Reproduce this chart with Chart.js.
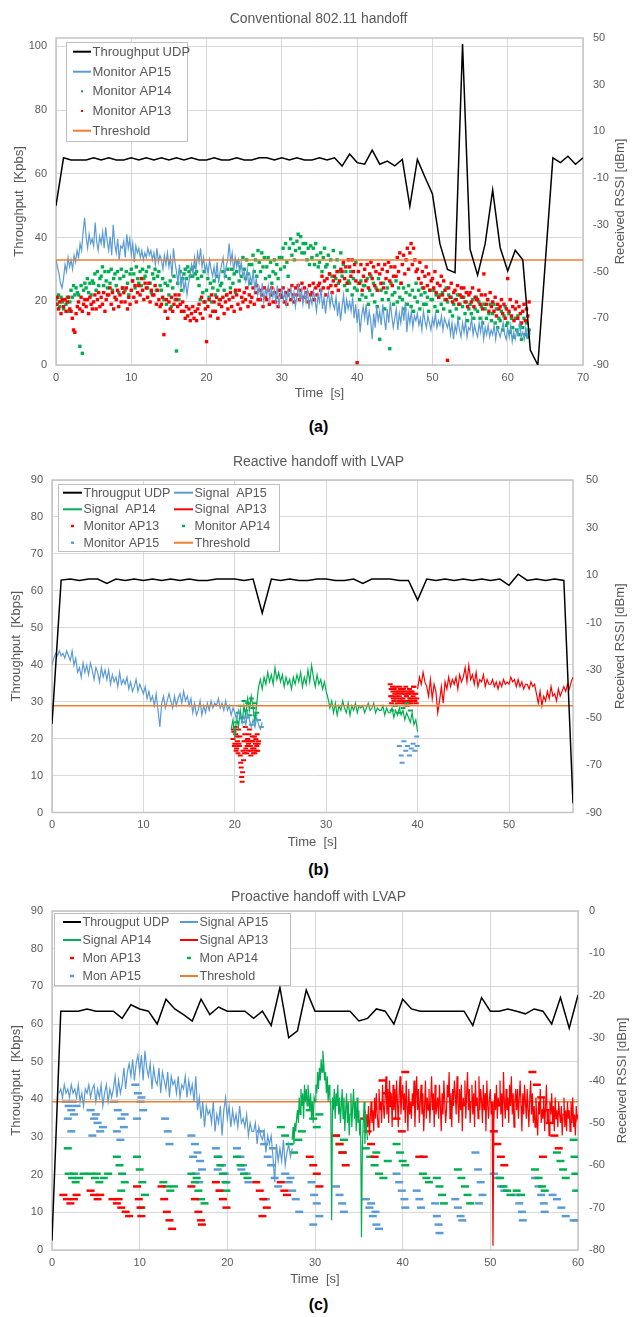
<!DOCTYPE html>
<html>
<head>
<meta charset="utf-8">
<script src="https://cdn.jsdelivr.net/npm/chart.js@4.4.1/dist/chart.umd.min.js"></script>
<style>
  body { margin:0; background:#fff; width:637px; height:1317px; position:relative; overflow:hidden; font-family:"Liberation Sans", Arial, sans-serif; }
  canvas { position:absolute; left:0; }
  .ttl { position:absolute; left:0; width:637px; text-align:center; font-size:14px; color:#595959; line-height:16px; }
  .lbl { position:absolute; left:0; width:637px; text-align:center; font-size:16px; font-weight:bold; color:#000; line-height:18px; }
</style>
</head>
<body>
<canvas id="chartA" width="637" height="405" style="top:0px"></canvas>
<canvas id="chartB" width="637" height="414" style="top:440px"></canvas>
<canvas id="chartC" width="637" height="406" style="top:885px"></canvas>
<div class="ttl" style="top:10px">Conventional 802.11 handoff</div>
<div class="lbl" style="top:418px">(a)</div>
<div class="ttl" style="top:453px">Reactive handoff with LVAP</div>
<div class="lbl" style="top:861px">(b)</div>
<div class="ttl" style="top:888px">Proactive handoff with LVAP</div>
<div class="lbl" style="top:1296px">(c)</div>
<script>
// ---------- (a) Conventional 802.11 handoff ----------
// throughput, one value per second (Kbps)
const tputA = [50,65,64.3,64.3,64.3,65,64.3,65,64.3,64.3,65,64.3,65,64.3,65,64.3,65,64.3,65,64.3,
  64.3,65,64.3,64.3,65,64.3,64.3,65,65,64.3,65,64.3,65,64.3,64.3,65,64.3,65,62.4,66.2,
  63.5,63,67.4,63,64,62.5,64.5,49.8,64.5,59,53.7,38,30,29,100.7,36.3,28.2,38,54.9,36.8,
  29.5,36,33,4.7,0,null,65,63.5,65.5,63,65];
// RSSI (dBm), monitor AP15 every 0.2 s
const monA15 = [
  -45,-48,-51,-55,-57,-53,-47,-50,-44,-48,-45,-49,-43,-46,-41,-44,-38,-41,-33,-27,
  -35,-40,-34,-38,-36,-39,-29,-37,-41,-35,-38,-33,-40,-31,-37,-41,-35,-43,-30,-38,
  -42,-36,-45,-39,-40,-37,-44,-34,-40,-36,-43,-38,-46,-39,-42,-40,-44,-41,-45,-42,
  -44,-40,-43,-41,-45,-42,-47,-40,-46,-43,-45,-49,-43,-47,-42,-48,-44,-52,-40,-46,
  -50,-55,-47,-57,-52,-58,-54,-60,-55,-52,-47,-51,-44,-49,-42,-46,-40,-48,-44,-50,
  -47,-51,-45,-49,-52,-48,-53,-46,-55,-50,-47,-44,-52,-48,-45,-38,-46,-42,-50,-44,
  -48,-45,-51,-46,-52,-50,-54,-49,-56,-52,-55,-50,-58,-53,-60,-57,-61,-55,-63,-58,
  -60,-56,-62,-57,-61,-58,-63,-56,-65,-60,-57,-62,-59,-64,-58,-61,-57,-63,-59,-65,
  -60,-56,-62,-58,-64,-59,-63,-57,-66,-61,-64,-58,-62,-67,-60,-63,-57,-66,-61,-68,
  -62,-59,-65,-60,-64,-66,-61,-69,-63,-71,-65,-60,-68,-62,-66,-63,-67,-61,-70,-64,
  -72,-66,-76,-69,-65,-70,-64,-73,-67,-71,-79,-68,-74,-65,-71,-67,-73,-64,-70,-75,
  -66,-72,-63,-69,-74,-70,-66,-75,-68,-72,-65,-71,-63,-76,-68,-72,-67,-74,-69,-71,
  -68,-73,-70,-75,-67,-71,-74,-69,-72,-75,-70,-73,-68,-74,-71,-73,-69,-75,-70,-72,
  -74,-71,-77,-72,-79,-73,-76,-70,-75,-78,-72,-76,-71,-78,-74,-75,-70,-77,-73,-76,
  -78,-72,-76,-71,-79,-74,-77,-73,-78,-75,-77,-73,-79,-74,-76,-78,-75,-72,-77,-79,
  -74,-78,-73,-80,-76,-79,-75,-77,-72,-78,-76,-79,-74,-78,-75,-77];
// RSSI (dBm), monitor AP14 six samples per second
const monA14 = [
  -62,-64,-60,-65,-61,-63, -66,-62,-64,-61,-67,-63, -58,-61,-56,-60,-57,-59, -60,-82,-56,-85,-58,-55,
  -57,-53,-59,-55,-60,-54, -55,-51,-58,-50,-56,-53, -52,-48,-56,-50,-54,-57, -50,-55,-49,-58,-53,-51,
  -56,-50,-59,-53,-49,-57, -52,-58,-50,-55,-60,-51, -49,-54,-51,-57,-48,-53, -55,-50,-56,-49,-53,-52,
  -50,-57,-48,-55,-59,-51, -53,-49,-58,-52,-50,-56, -58,-53,-62,-55,-64,-56, -60,-54,-65,-57,-52,-62,
  -84,-55,-62,-50,-58,-53, -51,-49,-53,-48,-50,-52, -49,-52,-48,-51,-50,-53, -56,-62,-52,-59,-50,-63,
  -58,-53,-61,-55,-63,-57, -54,-60,-52,-58,-62,-56, -55,-50,-58,-52,-60,-49, -53,-57,-49,-55,-51,-59,
  -50,-46,-54,-48,-52,-44, -49,-53,-45,-51,-47,-55, -47,-43,-50,-45,-52,-41, -46,-50,-42,-48,-44,-53,
  -48,-44,-52,-46,-55,-50, -45,-51,-47,-53,-44,-49, -44,-40,-48,-38,-46,-52, -40,-36,-43,-38,-45,-41,
  -37,-34,-40,-35,-42,-38, -42,-38,-45,-40,-47,-39, -44,-40,-47,-38,-43,-48, -46,-42,-50,-44,-40,-48,
  -47,-43,-51,-45,-52,-41, -48,-53,-45,-55,-50,-42, -52,-47,-56,-50,-58,-54, -55,-50,-60,-53,-57,-46,
  -58,-55,-62,-54,-60,-56, -56,-61,-53,-64,-58,-52, -60,-55,-63,-57,-65,-53, -79,-58,-62,-55,-66,-59,
  -57,-62,-83,-55,-60,-64, -59,-54,-63,-57,-61,-55, -62,-57,-66,-59,-64,-56, -60,-65,-58,-67,-61,-55,
  -63,-58,-66,-60,-57,-64, -59,-64,-61,-67,-58,-62, -62,-58,-65,-60,-67,-61, -60,-64,-59,-66,-62,-57,
  -63,-60,-67,-61,-69,-64, -62,-66,-60,-70,-64,-61, -65,-61,-68,-63,-71,-66, -64,-68,-62,-70,-66,-61,
  -67,-63,-70,-65,-72,-64, -66,-70,-62,-68,-64,-71, -68,-64,-72,-66,-74,-70, -71,-67,-75,-69,-65,-73,
  -72,-68,-76,-70,-74,-78, -70,-75,-69,-77,-73,-79, -74,-70,-77,-72,-78,-75];
// RSSI (dBm), monitor AP13 six samples per second
const monA13 = [
  -64,-61,-66,-63,-68,-62, -65,-62,-67,-63,-61,-66, -67,-70,-75,-76,-68,-65, -63,-66,-61,-67,-64,-62,
  -65,-62,-68,-61,-64,-66, -63,-60,-66,-62,-59,-65, -61,-64,-59,-67,-62,-60, -60,-57,-64,-59,-66,-61,
  -62,-58,-65,-60,-63,-57, -59,-63,-57,-66,-61,-64, -58,-54,-61,-56,-63,-59, -56,-60,-53,-58,-62,-55,
  -57,-61,-55,-63,-58,-60, -60,-56,-64,-58,-62,-65, -64,-61,-77,-67,-62,-70, -63,-66,-61,-67,-64,-60,
  -62,-65,-60,-64,-67,-63, -67,-70,-65,-69,-66,-71, -68,-65,-70,-67,-71,-66, -64,-68,-61,-70,-63,-66,
  -80,-65,-62,-69,-60,-67, -63,-67,-61,-70,-64,-62, -65,-61,-68,-63,-60,-66, -62,-59,-65,-61,-67,-58,
  -60,-64,-58,-66,-61,-63, -59,-62,-57,-65,-60,-63, -61,-57,-64,-59,-56,-62, -58,-62,-60,-65,-57,-61,
  -62,-58,-64,-60,-57,-63, -59,-63,-61,-65,-58,-60, -61,-57,-63,-59,-64,-60, -58,-62,-56,-60,-63,-57,
  -60,-56,-62,-58,-55,-61, -57,-61,-59,-63,-56,-60, -59,-55,-62,-57,-60,-56, -55,-58,-52,-57,-54,-60,
  -53,-57,-51,-56,-59,-54, -52,-56,-50,-58,-54,-49, -50,-46,-53,-48,-55,-45, -48,-52,-45,-50,-47,-54,
  -89,-50,-55,-47,-58,-52, -49,-54,-47,-57,-51,-46, -53,-48,-56,-50,-58,-47, -51,-55,-49,-57,-47,-53,
  -50,-46,-54,-48,-56,-52, -48,-52,-44,-50,-42,-55, -47,-43,-51,-45,-40,-49, -42,-38,-47,-40,-45,-50,
  -49,-53,-46,-55,-50,-57, -52,-48,-56,-51,-58,-54, -53,-57,-50,-59,-55,-61, -56,-52,-60,-54,-58,-62,
  -88,-57,-61,-55,-63,-59, -58,-62,-56,-64,-60,-57, -61,-57,-63,-59,-65,-60, -59,-63,-57,-65,-61,-62,
  -62,-58,-64,-60,-66,-51, -60,-64,-62,-67,-59,-65, -63,-67,-61,-69,-64,-66, -65,-62,-68,-64,-70,-66,
  -53,-67,-62,-69,-65,-71, -66,-63,-70,-65,-68,-72, -67,-64,-71,-66,-69,-63];
const thrA = -45;

// ---------- (b) Reactive handoff with LVAP ----------
const tputB = [24,62.9,63.2,62.8,63.2,63.2,62,63.2,62.8,63.2,62.8,63.2,62.8,63.2,62.8,63.2,62.8,62.8,63.2,63.2,
  63.2,62.8,63.2,54,63.2,62.8,63.2,62.8,62.8,63.2,63.2,62.8,62.8,63.2,62,63.2,63.2,63.2,62.8,62.8,
  57.5,63.2,62.8,63.2,62.8,63.2,62.8,63.2,62.8,63.2,61.5,64.5,62.8,63.2,62.8,63.2,62.8,2.5];
// signal AP15 from 0 s every 0.2 s
const sigB15 = [
  -28,-25,-23,-24,-22,-24,-23,-25,-22,-24,-26,-22,-28,-25,-31,-29,-33,-27,-31,-28,
  -32,-27,-30,-34,-29,-31,-35,-29,-33,-30,-34,-30,-36,-32,-35,-33,-37,-31,-36,-34,
  -36,-33,-38,-35,-39,-37,-34,-39,-36,-38,-40,-37,-42,-39,-43,-41,-45,-40,-47,-54,
  -44,-41,-46,-43,-40,-43,-46,-41,-45,-42,-40,-44,-39,-43,-41,-45,-42,-48,-44,-49,
  -47,-43,-49,-45,-48,-44,-47,-43,-46,-44,-45,-42,-46,-44,-47,-43,-47,-45,-49,-46,
  -48,-51,-47,-50,-52,-49,-53,-48,-51,-54,-51,-54,-50,-53,-55,-52];
// signal AP14 from 19.6 s every 0.2 s
const sigB14 = [-55,-51,
  -58,-50,-54,-47,-52,-45,-49,-42,-47,-41,-46,-52,-44,-37,-34,-38,-33,-36,-31,-35,
  -32,-36,-29,-34,-31,-35,-32,-37,-33,-36,-34,-38,-33,-36,-32,-35,-31,-37,-33,-36,
  -30,-35,-28,-33,-37,-32,-36,-34,-38,-35,-39,-42,-46,-43,-48,-44,-49,-45,-47,-43,
  -46,-48,-44,-49,-45,-47,-44,-48,-45,-46,-45,-48,-46,-44,-47,-46,-44,-48,-46,-47,
  -47,-45,-49,-46,-48,-48,-46,-50,-47,-49,-46,-49,-47,-51,-48,-50,-52,-48,-53,-51,-56];
// signal AP13 from 40 s every 0.2 s
const sigB13 = [
  -38,-33,-36,-31,-35,-37,-41,-34,-42,-36,-39,-48,-43,-37,-44,-35,-38,-33,-37,-34,
  -36,-33,-38,-32,-35,-33,-29,-35,-28,-34,-32,-36,-31,-37,-34,-35,-32,-37,-34,-36,
  -36,-34,-37,-35,-38,-35,-37,-34,-36,-35,-36,-33,-35,-34,-37,-34,-37,-35,-38,-36,
  -36,-38,-35,-37,-36,-40,-44,-39,-45,-41,-43,-39,-42,-37,-41,-40,-43,-38,-41,-39,
  -37,-39,-36,-38,-35,-33];
// monitor samples [time s, dBm]
const monB13 = [[19.8,-59],[19.85,-55],[19.9,-56],[19.95,-62],[20.0,-61],[20.05,-54],[20.1,-57],[20.15,-64],
  [20.2,-63],[20.25,-58],[20.3,-60],[20.35,-65],[20.4,-55],[20.45,-61],[20.5,-62],[20.55,-58],
  [20.6,-66],[20.65,-69],[20.7,-71],[20.75,-75],[20.8,-77],[20.85,-73],[20.9,-64],[20.95,-68],
  [21.0,-60],[21.05,-65],[21.1,-57],[21.15,-54],[21.2,-63],[21.25,-60],[21.3,-65],[21.35,-62],
  [21.4,-59],[21.45,-64],[21.5,-61],[21.55,-57],[21.6,-55],[21.65,-60],[21.7,-62],[21.75,-66],
  [21.8,-64],[21.85,-60],[21.9,-58],[21.95,-63],[22.0,-60],[22.05,-65],[22.1,-63],[22.15,-58],
  [22.2,-65],[22.25,-61],[22.3,-59],[22.35,-64],[22.4,-62],[22.45,-57],[22.5,-64],[22.55,-61],[22.6,-60],
  [37.0,-36],[37.05,-41],[37.1,-38],[37.15,-44],[37.2,-41],[37.25,-37],[37.3,-39],[37.35,-42],
  [37.4,-43],[37.45,-38],[37.5,-40],[37.55,-45],[37.6,-37],[37.65,-41],[37.7,-42],[37.75,-39],
  [37.8,-44],[37.85,-40],[37.9,-39],[37.95,-43],[38.0,-41],[38.05,-37],[38.1,-38],[38.15,-42],
  [38.2,-43],[38.25,-39],[38.3,-40],[38.35,-44],[38.4,-42],[38.45,-38],[38.5,-39],[38.55,-43],
  [38.6,-44],[38.65,-40],[38.7,-37],[38.75,-41],[38.8,-41],[38.85,-45],[38.9,-43],[38.95,-39],
  [39.0,-40],[39.05,-44],[39.1,-38],[39.15,-42],[39.2,-42],[39.25,-39],[39.3,-44],[39.35,-40],
  [39.4,-39],[39.45,-43],[39.5,-41],[39.55,-37],[39.6,-37],[39.65,-42],[39.7,-43],[39.75,-40],
  [39.8,-40],[39.85,-44],[39.9,-42]];
const monB14 = [[20.2,-52],[20.4,-48],[20.6,-45],[20.8,-50],[21.0,-43],[21.2,-47],[21.4,-44],[21.6,-49],
  [21.8,-42],[22.0,-46],[22.2,-44],[22.4,-48],[37.2,-47],[37.6,-45],[38.0,-48],[38.4,-46],[38.8,-44],[39.2,-47]];
const monB15 = [[21.0,-52],[21.4,-50],[21.8,-53],[22.2,-49],[22.6,-51],[22.9,-54],[38.0,-62],[38.2,-66],
  [38.3,-69],[38.5,-60],[38.7,-64],[38.9,-62],[39.1,-66],[39.3,-63],[39.5,-61],[39.7,-64],[39.9,-58],[39.95,-62]];
const thrB = -45;

// ---------- (c) Proactive handoff with LVAP ----------
const tputC = [2.5,63.4,63.4,63.4,64,63.4,63.4,63.4,61.5,65.1,64,63.4,60,66.6,64,62.5,60.8,66.6,62.5,64.5,
  63.4,63.4,63.4,61.5,63.4,59.6,69.7,56.4,58.2,69,63.4,63.4,63.4,63.4,63.4,60.8,61.5,64,63.4,60,
  66.6,64,63.4,63.4,63.4,63.4,63.4,63.4,59.6,67,63.4,63.4,64,63.4,62.7,64,63.4,60,67,58.9,67.7];
// signal AP15 from 0.8 s every 0.2 s
const sigC15 = [-43,
  -42,-44,-41,-43,-42,-44,-41,-43,-42,-44,-41,-45,-43,-46,-42,-43,-41,-44,-42,-41,
  -45,-42,-44,-41,-46,-43,-41,-45,-42,-44,-42,-39,-44,-40,-43,-41,-37,-42,-38,-36,
  -39,-35,-40,-36,-34,-38,-34,-40,-33,-37,-39,-36,-42,-37,-40,-41,-37,-43,-38,-40,
  -42,-38,-44,-39,-41,-40,-43,-39,-44,-41,-42,-39,-44,-40,-43,-41,-45,-39,-47,-44,
  -49,-45,-51,-46,-48,-47,-50,-45,-52,-48,-50,-46,-53,-47,-44,-49,-46,-51,-47,-50,
  -48,-51,-46,-50,-49,-51,-48,-53,-50,-52,-52,-50,-55,-51,-53,-54,-52,-57,-53,-55,
  -53,-58,-64,-55,-59,-56,-59,-54,-60,-57,-55,-58,-56];
// signal AP14 from 27.4 s every 0.1 s
const sigC14 = [-54,-51,-55,-50,-52,-49,
  -47,-50,-44,-48,-42,-46,-43,-49,-41,-45,-42,-46,-41,-44,-47,-43,-49,-45,-50,-44,
  -45,-41,-43,-38,-42,-37,-40,-35,-38,-33,-36,-40,-38,-43,-39,-45,-41,-44,-46,-73,
  -44,-47,-42,-49,-43,-46,-41,-48,-44,-50,-46,-42,-49,-44,-52,-47,-43,-50,-45,-53,
  -48,-43,-51,-46,-42,-49,-45,-52,-44,-50,-47,-53,-49,-77,-56,-50,-45,-55,-48,-52,-54];
// signal AP13 from 35.6 s every 0.1 s
const sigC13 = [-50,-47,-52,-48,
  -51,-46,-53,-49,-45,-50,-47,-52,-44,-49,-43,-48,-51,-42,-47,-45,-50,-41,-46,-49,
  -44,-39,-48,-42,-50,-40,-46,-43,-51,-41,-47,-42,-49,-40,-45,-51,-43,-39,-48,-44,
  -41,-47,-43,-50,-40,-46,-52,-42,-48,-45,-49,-43,-46,-40,-51,-44,-39,-47,-42,-50,
  -45,-41,-48,-43,-52,-46,-40,-49,-44,-47,-42,-50,-45,-39,-47,-43,-51,-41,-48,-46,
  -44,-49,-41,-46,-52,-43,-48,-40,-45,-50,-47,-41,-44,-38,-49,-43,-51,-42,-46,-40,
  -43,-48,-39,-45,-50,-42,-47,-41,-52,-44,-46,-40,-49,-43,-38,-47,-42,-50,-45,-41,
  -48,-43,-51,-40,-46,-44,-49,-39,-47,-42,-45,-50,-41,-47,-43,-52,-40,-46,-49,-44,
  -42,-48,-45,-79,-50,-43,-47,-41,-49,-44,-46,-40,-48,-43,-51,-38,-45,-49,-42,-47,
  -44,-50,-41,-46,-39,-48,-43,-51,-45,-42,-47,-42,-49,-44,-40,-46,-52,-43,-48,-41,
  -45,-49,-42,-47,-51,-44,-40,-48,-43,-50,-46,-51,-44,-49,-53,-45,-48,-42,-50,-47,
  -49,-44,-52,-46,-41,-50,-47,-53,-45,-48,-43,-50,-46,-52,-44,-49,-47,-51,-45,-48,
  -50,-46,-53,-48,-44,-51,-47,-52,-45,-49,-47,-52,-45,-50,-44,-51,-48,-53,-46,-49,-48];
const monC13 = [[1.3,-67],[1.7,-68],[2.1,-69],[2.5,-68],[2.8,-67],[4.4,-66],[4.8,-67],[5.2,-68],[5.5,-67],
  [6.9,-68],[7.4,-69],[7.9,-70],[8.4,-71],[8.8,-72],[7.6,-68],[9.7,-65],[9.9,-68],[10.1,-70],[10.2,-72],
  [12.5,-65],[12.8,-68],[13.1,-71],[13.4,-73],[13.7,-75],[15.9,-65],[16.3,-68],[16.7,-71],[17.0,-73],[17.1,-74],
  [18.7,-64],[19.1,-66],[19.5,-68],[19.9,-70],[23.3,-64],[23.7,-66],[24.1,-68],[24.5,-70],[24.0,-72],
  [26.1,-64],[26.5,-66],[26.8,-67],[29.4,-58],[29.8,-60],[30.2,-62],[30.5,-65],
  [32.4,-53],[32.8,-55],[33.1,-57],[33.5,-60],[35.6,-49],[36.0,-52],[36.4,-55],[36.8,-58],
  [37.7,-40],[38.2,-43],[38.8,-46],[39.3,-49],[39.9,-52],[40.3,-38],[41.9,-58],[42.4,-58],
  [50.4,-52],[50.8,-55],[51.2,-58],[51.6,-60],[54.8,-38],[55.3,-41],[55.8,-44],[56.3,-47],[56.8,-50],
  [57.3,-53],[57.8,-56],[56.0,-58]];
const monC14 = [[1.8,-56],[1.9,-62],[2.3,-63],[2.7,-64],[3.1,-63],[3.6,-62],[2.5,-62],
  [4.4,-62],[4.9,-63],[5.4,-64],[5.9,-63],[6.4,-62],[5.1,-62],[7.4,-58],[7.7,-60],[8.0,-62],[8.3,-64],[7.9,-66],
  [9.7,-58],[10.0,-61],[10.3,-64],[10.6,-67],[10.2,-70],[12.7,-64],[13.1,-65],[13.5,-66],[13.9,-65],
  [15.9,-62],[16.3,-64],[16.7,-66],[17.0,-68],[17.4,-69],[16.5,-63],[18.9,-58],[19.2,-60],[19.5,-62],[19.8,-64],[19.9,-66],
  [21.1,-58],[21.5,-60],[21.9,-62],[22.3,-63],[26.1,-51],[26.6,-53],[27.1,-55],[27.6,-57],[28.1,-54],[28.5,-52],
  [29.4,-47],[29.8,-49],[30.2,-51],[30.5,-48],[32.4,-53],[32.8,-55],[33.2,-57],[33.3,-54],
  [35.8,-56],[36.3,-58],[36.8,-60],[37.3,-62],[37.8,-63],[38.3,-59],[37.0,-57],
  [39.3,-55],[39.7,-57],[40.0,-59],[40.3,-60],[42.3,-62],[42.7,-63],[43.0,-64],
  [43.9,-63],[44.2,-65],[44.5,-67],[44.7,-69],[46.3,-61],[46.7,-63],[47.1,-65],[47.4,-67],[47.7,-69],
  [51.1,-63],[51.5,-65],[51.9,-66],[52.3,-67],[53.0,-66],[53.5,-67],[55.1,-61],[55.5,-63],[55.9,-65],[56.2,-66],
  [57.6,-57],[58.0,-59],[58.3,-61],[58.6,-63],[59.5,-54],[59.6,-58],[59.7,-62],[59.8,-66]];
const monC15 = [[1.6,-45],[1.9,-46],[2.2,-47],[2.5,-48],[1.8,-49],[2.4,-45],[2.2,-52],[2.8,-46],
  [4.4,-47],[4.8,-49],[5.2,-50],[5.5,-52],[4.6,-53],[5.0,-48],[5.8,-51],
  [7.1,-45],[7.5,-47],[7.9,-49],[8.2,-51],[7.4,-52],[7.8,-54],[8.3,-48],
  [9.5,-41],[9.8,-43],[10.1,-45],[10.4,-47],[9.7,-49],[10.2,-44],[12.9,-49],[13.2,-52],[13.4,-55],
  [15.9,-53],[16.3,-55],[16.6,-57],[16.9,-59],[17.1,-61],[16.4,-62],[16.8,-64],[16.1,-58],
  [18.7,-56],[19.0,-58],[19.4,-60],[19.7,-62],[19.9,-64],[19.2,-66],[18.9,-61],
  [21.1,-56],[21.5,-58],[21.8,-60],[22.2,-62],[22.4,-64],[21.6,-61],
  [23.8,-52],[24.2,-55],[24.6,-58],[25.0,-60],[25.4,-63],[25.8,-65],[24.4,-68],[25.2,-56],
  [26.6,-62],[27.0,-64],[27.4,-66],[27.8,-68],[28.2,-71],[27.2,-63],[29.6,-64],[29.9,-67],[30.2,-69],[30.5,-72],[29.8,-74],
  [32.4,-65],[32.8,-67],[33.1,-69],[33.3,-71],[35.8,-68],[36.2,-70],[36.6,-72],[37.0,-74],[37.3,-75],[36.4,-69],[36.9,-71],
  [39.3,-62],[39.6,-64],[39.9,-66],[40.2,-68],[40.3,-70],[41.6,-66],[41.9,-68],[42.1,-70],
  [43.7,-69],[43.9,-72],[44.1,-74],[44.2,-76],[46.0,-68],[46.3,-70],[46.6,-72],[46.8,-73],
  [48.3,-57],[48.6,-61],[48.9,-64],[49.1,-67],[48.7,-69],[50.4,-62],[50.8,-63],[51.2,-65],[51.6,-66],
  [53.0,-67],[53.3,-69],[53.6,-71],[53.7,-73],[55.1,-63],[55.5,-65],[55.8,-67],[56.1,-69],[56.2,-71],
  [57.1,-67],[57.6,-68],[58.1,-70],[58.6,-72],[59.5,-73],[59.8,-73]];
const thrC = -45;

// ---------- helpers ----------
const FONT = '"Liberation Sans", Arial, sans-serif';
Chart.defaults.font.family = FONT;
Chart.defaults.color = '#595959';

const BLUE = '#5b9bd5', GREEN = '#00b050', RED = '#ff0000', ORANGE = '#ed7d31';

function series(vals, t0, step) {
  return vals.map((v, i) => ({ x: +(t0 + i * step).toFixed(3), y: v }));
}
function pairs(arr) {
  return arr.map(p => ({ x: p[0], y: p[1] }));
}
function lineDs(label, data, color, width, axis, order) {
  return { label, data, yAxisID: axis, borderColor: color, backgroundColor: color,
    borderWidth: width, pointRadius: 0, tension: 0, spanGaps: true, order };
}
function markDs(label, data, color, style, r, bw, order) {
  return { label, data, yAxisID: 'y1', showLine: false, pointStyle: style, pointRadius: r,
    pointBorderWidth: bw, pointBorderColor: color, pointBackgroundColor: color,
    borderColor: color, backgroundColor: color, order };
}

// plot frame
const frame = {
  id: 'frame',
  beforeDatasetsDraw(chart) {
    const a = chart.chartArea, ctx = chart.ctx;
    ctx.save();
    ctx.strokeStyle = '#c4c4c4';
    ctx.lineWidth = 1.5;
    ctx.strokeRect(a.left, a.top, a.right - a.left, a.bottom - a.top);
    ctx.restore();
  }
};

// boxed legend inside the plot
const boxLegend = {
  id: 'boxLegend',
  afterDraw(chart, args, o) {
    const ctx = chart.ctx, b = o.box;
    ctx.save();
    ctx.fillStyle = '#fff';
    ctx.fillRect(b[0], b[1], b[2] - b[0], b[3] - b[1]);
    ctx.strokeStyle = '#bfbfbf';
    ctx.lineWidth = 1;
    ctx.strokeRect(b[0] + 0.5, b[1] + 0.5, b[2] - b[0], b[3] - b[1]);
    ctx.font = o.font + 'px ' + FONT;
    ctx.textBaseline = 'middle';
    chart.data.datasets.forEach((ds, i) => {
      const lx = o.colX[i % o.cols], y = o.rowY[Math.floor(i / o.cols)];
      const cx = lx + o.lineW / 2;
      if (ds.showLine === false) {
        ctx.fillStyle = ds.pointBackgroundColor;
        if (ds.pointStyle === 'rect') ctx.fillRect(cx - 1, y - 1, 2, 2);
        else ctx.fillRect(cx - o.dash / 2, y - 1.2, o.dash, 2.4);
      } else {
        ctx.strokeStyle = ds.borderColor;
        ctx.lineWidth = 2;
        ctx.beginPath(); ctx.moveTo(lx, y); ctx.lineTo(lx + o.lineW, y); ctx.stroke();
      }
      ctx.fillStyle = '#595959';
      ctx.fillText(ds.label, lx + o.lineW + 1.5, y + 0.5);
    });
    ctx.restore();
  }
};

// right axis title reading bottom to top
const rightTitle = {
  id: 'rightTitle',
  afterDraw(chart, args, o) {
    const a = chart.chartArea, ctx = chart.ctx;
    ctx.save();
    ctx.translate(o.x, (a.top + a.bottom) / 2);
    ctx.rotate(-Math.PI / 2);
    ctx.font = '13px ' + FONT;
    ctx.fillStyle = '#595959';
    ctx.textAlign = 'center';
    ctx.textBaseline = 'middle';
    ctx.fillText(o.text, 0, 0);
    ctx.restore();
  }
};

// ticks from the axis minimum in fixed steps, up to the last full step
function fixedTicks(step) {
  return axis => {
    const out = [];
    for (let v = axis.min; v <= axis.max + 1e-9; v += step) out.push({ value: +v.toFixed(6) });
    axis.ticks = out;
  };
}

function makeChart(id, p) {
  new Chart(document.getElementById(id), {
    type: 'line',
    data: { datasets: p.datasets },
    options: {
      responsive: false, animation: false, devicePixelRatio: 1, events: [],
      layout: { padding: { top: p.top, left: 0, right: 0, bottom: 0 } },
      plugins: { legend: { display: false }, tooltip: { enabled: false },
        boxLegend: p.legend, rightTitle: { text: 'Received RSSI [dBm]', x: p.rtX } },
      scales: {
        x: { type: 'linear', min: 0, max: p.xMax,
          afterFit: s => { s.height = p.xH; }, afterBuildTicks: fixedTicks(10),
          ticks: { stepSize: 10, padding: 6, font: { size: 11 }, maxRotation: 0 },
          grid: { color: '#d9d9d9', drawTicks: false }, border: { display: false },
          title: { display: true, text: 'Time  [s]', font: { size: 13 }, padding: { top: 0, bottom: 4 } } },
        y: { position: 'left', min: 0, max: p.yMax,
          afterFit: s => { s.width = p.left; }, afterBuildTicks: fixedTicks(p.yStep),
          ticks: { stepSize: p.yStep, padding: 9, font: { size: 11 } },
          grid: { color: '#d9d9d9', drawTicks: false }, border: { display: false },
          title: { display: true, text: p.yTitle, font: { size: 13 }, padding: { top: p.ltPad, bottom: 0 } } },
        y1: { position: 'right', min: p.rMin, max: p.rMax,
          afterFit: s => { s.width = 637 - p.right; }, afterBuildTicks: fixedTicks(p.rStep),
          ticks: { stepSize: p.rStep, padding: p.rPad, font: { size: 11 } },
          grid: { display: false, drawTicks: false }, border: { display: false } }
      }
    },
    plugins: [frame, boxLegend, rightTitle]
  });
}

// (a)
makeChart('chartA', {
  top: 38, xH: 40, left: 56, right: 583, xMax: 70, yMax: 102.6, yStep: 20,
  rMin: -90, rMax: 50, rStep: 20, rPad: 10, ltPad: 12, rtX: 620,
  yTitle: 'Throughput  [Kpbs]',
  legend: { box: [66, 42, 187, 141], cols: 1, colX: [73], rowY: [51.7, 71.7, 91.3, 111, 130.7], lineW: 18, font: 13, dash: 2 },
  datasets: [
    lineDs('Throughput UDP', series(tputA, 0, 1), '#000', 1.5, 'y', 0),
    lineDs('Monitor AP15', series(monA15, 0, 0.2), BLUE, 1.2, 'y1', 2),
    markDs('Monitor AP14', series(monA14, 0, 1 / 6), GREEN, 'rect', 2.4, 0, 4),
    markDs('Monitor AP13', series(monA13, 0, 1 / 6), RED, 'rect', 2.4, 0, 3),
    lineDs('Threshold', [{ x: 0, y: thrA }, { x: 70, y: thrA }], ORANGE, 1.5, 'y1', 1)
  ]
});

// (b)
makeChart('chartB', {
  top: 40, xH: 41.5, left: 52, right: 573, xMax: 57, yMax: 90, yStep: 10,
  rMin: -90, rMax: 50, rStep: 20, rPad: 13, ltPad: 9, rtX: 620,
  yTitle: 'Throughput  [Kbps]',
  legend: { box: [58, 44, 279, 111], cols: 2, colX: [63, 174], rowY: [52.7, 69.3, 86, 102.7], lineW: 19, font: 12.5, dash: 3 },
  datasets: [
    lineDs('Througput UDP', series(tputB, 0, 1), '#000', 1.5, 'y', 0),
    lineDs('Signal  AP15', series(sigB15, 0, 0.2), BLUE, 1.2, 'y1', 3),
    lineDs('Signal  AP14', series(sigB14, 19.6, 0.2), GREEN, 1.2, 'y1', 3),
    lineDs('Signal  AP13', series(sigB13, 40, 0.2), RED, 1.2, 'y1', 3),
    markDs('Monitor AP13', pairs(monB13), RED, 'line', 2.5, 2, 5),
    markDs('Monitor AP14', pairs(monB14), GREEN, 'line', 2.5, 2, 4),
    markDs('Monitor AP15', pairs(monB15), BLUE, 'line', 2.5, 2, 4),
    lineDs('Threshold', [{ x: 0, y: thrB }, { x: 57, y: thrB }], ORANGE, 1.5, 'y1', 1)
  ]
});

// (c)
makeChart('chartC', {
  top: 26, xH: 41, left: 52, right: 578, xMax: 60, yMax: 90, yStep: 10,
  rMin: -80, rMax: 0, rStep: 10, rPad: 11, ltPad: 9, rtX: 622,
  yTitle: 'Throughput  [Kbps]',
  legend: { box: [54, 28, 290, 100], cols: 2, colX: [63, 180], rowY: [37, 55, 73, 91], lineW: 18, font: 12.5, dash: 4 },
  datasets: [
    lineDs('Througput UDP', series(tputC, 0, 1), '#000', 1.5, 'y', 0),
    lineDs('Signal AP15', series(sigC15, 0.8, 0.2), BLUE, 1.2, 'y1', 2),
    lineDs('Signal AP14', series(sigC14, 27.4, 0.1), GREEN, 1.2, 'y1', 2),
    lineDs('Signal AP13', series(sigC13, 35.6, 0.1), RED, 1.2, 'y1', 2),
    markDs('Mon AP13', pairs(monC13), RED, 'line', 4, 2.5, 4),
    markDs('Mon AP14', pairs(monC14), GREEN, 'line', 4, 2.5, 4),
    markDs('Mon AP15', pairs(monC15), BLUE, 'line', 4, 2.5, 4),
    lineDs('Threshold', [{ x: 0, y: thrC }, { x: 60, y: thrC }], ORANGE, 1.5, 'y1', 3)
  ]
});
</script>
</body>
</html>
